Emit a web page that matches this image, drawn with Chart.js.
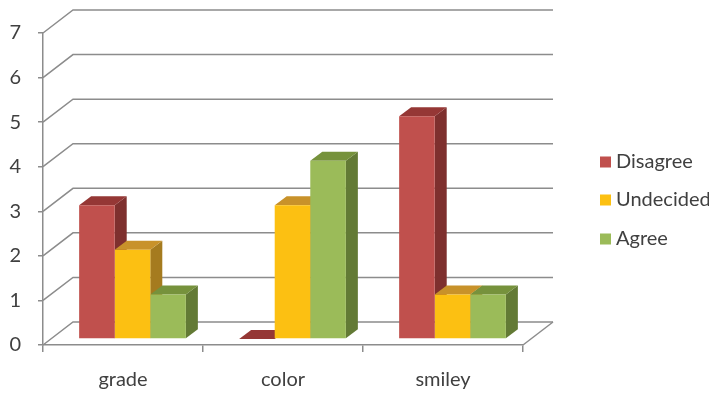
<!DOCTYPE html>
<html>
<head>
<meta charset="utf-8">
<script src="https://cdn.jsdelivr.net/npm/chart.js@4"></script>
<style>
  html, body { margin: 0; padding: 0; background: #fff; }
  #wrap { width: 709px; height: 393px; position: relative; }
</style>
</head>
<body>
<div id="wrap"><canvas id="chart"></canvas></div>
<script>
const categories = ['grade', 'color', 'smiley'];
const seriesNames = ['Disagree', 'Undecided', 'Agree'];
const disagree = [3, 0, 5];
const undecided = [2, 3, 1];
const agree = [1, 4, 1];
const yMin = 0;
const yMax = 7;

// front / side / top shades for the 3d look
const fronts = ['#C0504D', '#FCC012', '#9BBB59'];
const sides = ['#7E302E', '#A57B1F', '#637A35'];
const tops = ['#953735', '#C8922A', '#76923C'];

const gridColor = '#8C8C8C';
const textColor = '#404040';
const wallDepth = { x: 30, y: -23 };   // back wall offset
const barDepth = { x: 12, y: -9 };     // depth of each bar
const barShift = { x: 9.5, y: -6 };    // bars sit a bit behind the front axis

Chart.defaults.font.family = 'Lato';
Chart.defaults.font.size = 20;
Chart.defaults.color = textColor;

function poly(ctx, pts, color) {
    ctx.beginPath();
    ctx.moveTo(pts[0][0], pts[0][1]);
    for (let i = 1; i < pts.length; i++) ctx.lineTo(pts[i][0], pts[i][1]);
    ctx.closePath();
    ctx.fillStyle = color;
    ctx.fill();
}

const walls3d = {
    id: 'walls3d',
    beforeDatasetsDraw(chart) {
        const ctx = chart.ctx;
        const area = chart.chartArea;
        const y = chart.scales.y;
        ctx.save();
        ctx.strokeStyle = gridColor;
        ctx.lineWidth = 1.5;
        // back wall grid lines
        for (let v = yMin; v <= yMax; v++) {
            const py = y.getPixelForValue(v);
            ctx.beginPath();
            ctx.moveTo(area.left, py);
            ctx.lineTo(area.left + wallDepth.x, py + wallDepth.y);
            ctx.lineTo(area.right + wallDepth.x, py + wallDepth.y);
            ctx.stroke();
        }
        // right edge of the floor
        ctx.beginPath();
        ctx.moveTo(area.right, area.bottom);
        ctx.lineTo(area.right + wallDepth.x, area.bottom + wallDepth.y);
        ctx.stroke();

        // bar sides and tops, then the library draws the fronts
        ctx.translate(barShift.x, barShift.y);
        chart.data.datasets.forEach((ds, di) => {
            const meta = chart.getDatasetMeta(di);
            meta.data.forEach(bar => {
                const l = bar.x - bar.width / 2;
                const r = bar.x + bar.width / 2;
                const t = bar.y;
                const b = bar.base;
                poly(ctx, [[r, t], [r + barDepth.x, t + barDepth.y], [r + barDepth.x, b + barDepth.y], [r, b]], sides[di]);
                poly(ctx, [[l, t], [l + barDepth.x, t + barDepth.y], [r + barDepth.x, t + barDepth.y], [r, t]], tops[di]);
            });
        });
    },
    afterDatasetsDraw(chart) {
        chart.ctx.restore();
    },
    afterDraw(chart) {
        // legend on the right
        const ctx = chart.ctx;
        ctx.save();
        ctx.font = '20px Lato';
        ctx.textBaseline = 'middle';
        ctx.textAlign = 'left';
        const rowsY = [162, 200, 239];
        chart.data.datasets.forEach((ds, i) => {
            ctx.fillStyle = ds.backgroundColor;
            ctx.fillRect(600, rowsY[i] - 5.5, 11, 11);
            ctx.fillStyle = textColor;
            ctx.fillText(ds.label, 616, rowsY[i]);
        });
        ctx.restore();
    }
};

new Chart(document.getElementById('chart'), {
    type: 'bar',
    data: {
        labels: categories,
        datasets: [
            { label: seriesNames[0], data: disagree, backgroundColor: fronts[0] },
            { label: seriesNames[1], data: undecided, backgroundColor: fronts[1] },
            { label: seriesNames[2], data: agree, backgroundColor: fronts[2] }
        ]
    },
    options: {
        responsive: true,
        maintainAspectRatio: false,
        animation: false,
        layout: { padding: { top: 33, right: 186, left: 0, bottom: 0 } },
        datasets: { bar: { categoryPercentage: 0.667, barPercentage: 1.0, borderWidth: 0, clip: false } },
        scales: {
            x: {
                afterFit: scale => { scale.height = 48; },
                grid: { offset: true, drawOnChartArea: false, tickLength: 7, color: gridColor, lineWidth: 1.5 },
                border: { color: gridColor, width: 1.5 },
                ticks: { padding: 16, color: textColor }
            },
            y: {
                min: yMin,
                max: yMax,
                afterFit: scale => { scale.width = 43; },
                grid: { drawOnChartArea: false, tickLength: 5, color: gridColor, lineWidth: 1.5 },
                border: { color: gridColor, width: 1.5 },
                ticks: { stepSize: 1, padding: 17, color: textColor }
            }
        },
        plugins: {
            legend: { display: false },
            tooltip: { enabled: false }
        }
    },
    plugins: [walls3d]
});
</script>
</body>
</html>
